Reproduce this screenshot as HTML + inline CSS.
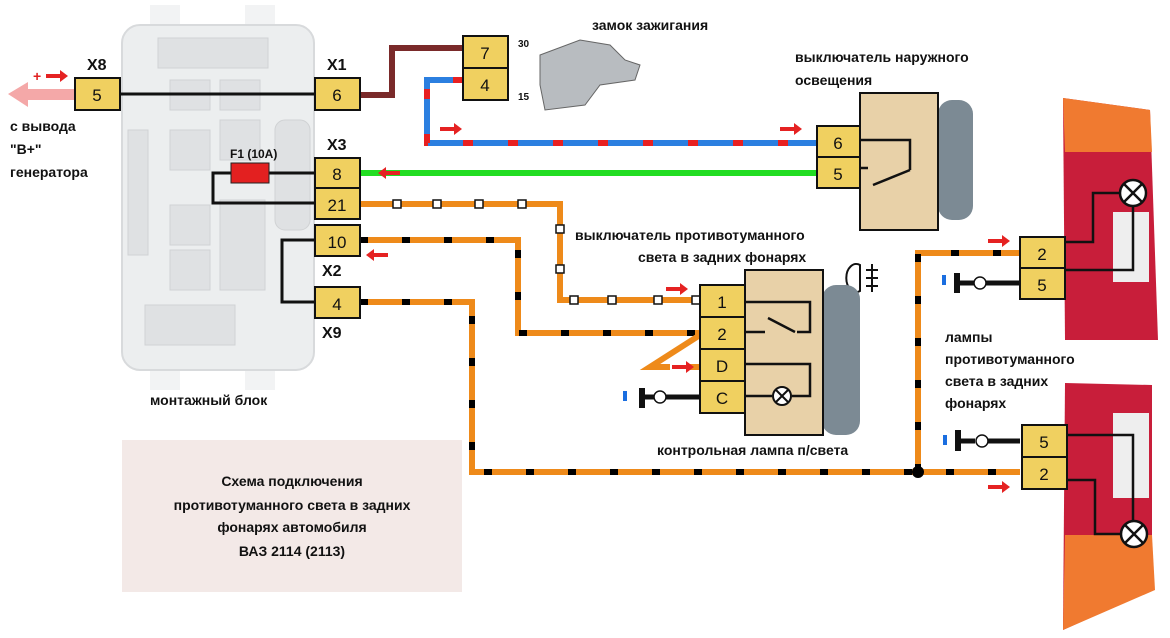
<!DOCTYPE html>
<html><head><meta charset="utf-8"><style>
body{margin:0;background:#fff}
svg{display:block}
text{font-family:"Liberation Sans","DejaVu Sans",sans-serif;font-weight:bold;fill:#111}
.c{fill:#f0d060;stroke:#111;stroke-width:2}
.n{font-size:17px;text-anchor:middle;font-weight:normal}
.l{font-size:14px}
</style></head><body>
<svg width="1170" height="638" viewBox="0 0 1170 638" xmlns="http://www.w3.org/2000/svg">
<!-- fuse block -->
<rect x="150" y="5" width="30" height="30" fill="#f2f3f4"/>
<rect x="245" y="5" width="30" height="30" fill="#f2f3f4"/>
<rect x="150" y="360" width="30" height="30" fill="#f2f3f4"/>
<rect x="245" y="360" width="30" height="30" fill="#f2f3f4"/>
<rect x="122" y="25" width="192" height="345" rx="18" fill="#eceeef" stroke="#d8dadc" stroke-width="2"/>
<g fill="#dfe1e3" stroke="#d0d2d4">
<rect x="158" y="38" width="110" height="30"/>
<rect x="170" y="80" width="40" height="30"/><rect x="220" y="80" width="40" height="30"/>
<rect x="170" y="130" width="40" height="40"/><rect x="220" y="120" width="40" height="40"/>
<rect x="170" y="205" width="40" height="40"/><rect x="220" y="200" width="45" height="90"/>
<rect x="170" y="250" width="40" height="40"/>
<rect x="128" y="130" width="20" height="125"/>
<rect x="145" y="305" width="90" height="40"/>
<rect x="275" y="120" width="35" height="110" rx="10"/>
</g>
<!-- text box -->
<rect x="122" y="440" width="340" height="152" fill="#f3e9e7"/>
<text x="292" y="486" class="l" text-anchor="middle" font-weight="normal">Схема подключения</text>
<text x="292" y="510" class="l" text-anchor="middle">противотуманного света в задних</text>
<text x="292" y="532" class="l" text-anchor="middle">фонарях автомобиля</text>
<text x="292" y="556" class="l" text-anchor="middle">ВАЗ 2114 (2113)</text>

<!-- tail lights -->
<g>
<path d="M1063 98 L1150 110 L1158 340 L1065 340 Z" fill="#c81e3a"/>
<path d="M1063 98 L1150 110 L1152 152 L1065 152 Z" fill="#f07a30"/>
<rect x="1113" y="212" width="36" height="70" fill="#eeeeee"/>
<path d="M1065 383 L1152 385 L1152 590 L1063 630 Z" fill="#c81e3a"/>
<path d="M1065 535 L1152 535 L1155 590 L1063 630 Z" fill="#f07a30"/>
<rect x="1113" y="413" width="36" height="85" fill="#eeeeee"/>
</g>
<!-- wires -->
<g fill="none" stroke-linejoin="miter">
<path d="M360 95 H392 V48 H463" stroke="#7a2a2a" stroke-width="6"/>
<path d="M463 80 H427 V143 H817" stroke="#2b7fe0" stroke-width="6"/>
<path d="M463 80 H427 V143 H817" stroke="#e82020" stroke-width="6" stroke-dasharray="10 35"/>
<path d="M360 173 H817" stroke="#22dd22" stroke-width="6"/>
<path d="M360 204 H560 V300 H700" stroke="#ee8a1a" stroke-width="6"/>
<path d="M360 240 H518 V333 H700" stroke="#ee8a1a" stroke-width="6"/>
<path d="M360 240 H518 V333 H700" stroke="#000" stroke-width="6" stroke-dasharray="8 34"/>
<path d="M360 302 H472 V472 H1020" stroke="#ee8a1a" stroke-width="6"/>
<path d="M360 302 H472 V472 H1020" stroke="#000" stroke-width="6" stroke-dasharray="8 34"/>
<path d="M918 472 V253 H1020" stroke="#ee8a1a" stroke-width="6"/>
<path d="M918 472 V253 H1020" stroke="#000" stroke-width="6" stroke-dasharray="8 34"/>
<path d="M700 335 L650 367 H670" stroke="#ee8a1a" stroke-width="6"/>
<path d="M690 367 H700" stroke="#ee8a1a" stroke-width="6"/>
</g>
<g fill="#fff" stroke="#111" stroke-width="1.5">
<rect x="393" y="200" width="8" height="8"/><rect x="433" y="200" width="8" height="8"/><rect x="475" y="200" width="8" height="8"/><rect x="518" y="200" width="8" height="8"/>
<rect x="556" y="225" width="8" height="8"/><rect x="556" y="265" width="8" height="8"/>
<rect x="570" y="296" width="8" height="8"/><rect x="608" y="296" width="8" height="8"/><rect x="654" y="296" width="8" height="8"/><rect x="692" y="296" width="8" height="8"/>
</g>
<circle cx="918" cy="472" r="6" fill="#000"/>
<!-- internal block wiring -->
<g fill="none" stroke="#111" stroke-width="3">
<path d="M120 94 H315"/>
<path d="M315 173 H213 V203 H315"/>
<path d="M315 240 H282 V302 H315"/>
</g>
<rect x="231" y="163" width="38" height="20" fill="#e32020" stroke="#222"/>
<text x="230" y="158" font-size="12" font-weight="normal">F1 (10A)</text>
<!-- left arrow -->
<path d="M8 94 L28 82 V89 H75 V100 H28 V107 Z" fill="#f4a8a8"/>
<text x="33" y="81" font-size="14" fill="#e02020" style="fill:#e02020">+</text>
<path d="M46 74 H60 V70 L68 76 L60 82 V78 H46 Z" fill="#e52222"/>
<!-- connectors -->
<rect class="c" x="75" y="78" width="45" height="32"/><text class="n" x="97" y="101">5</text>
<rect class="c" x="315" y="78" width="45" height="32"/><text class="n" x="337" y="101">6</text>
<rect class="c" x="315" y="158" width="45" height="30"/><text class="n" x="337" y="180">8</text>
<rect class="c" x="315" y="188" width="45" height="31"/><text class="n" x="337" y="211">21</text>
<rect class="c" x="315" y="225" width="45" height="31"/><text class="n" x="337" y="248">10</text>
<rect class="c" x="315" y="287" width="45" height="31"/><text class="n" x="337" y="310">4</text>
<g font-size="16" font-weight="normal">
<text x="87" y="70" font-weight="normal">X8</text><text x="327" y="70" font-weight="normal">X1</text>
<text x="327" y="150" font-weight="normal">X3</text><text x="322" y="276" font-weight="normal">X2</text>
<text x="322" y="338" font-weight="normal">X9</text></g>
<text x="10" y="131" class="l">с вывода</text>
<text x="10" y="154" class="l">"В+"</text>
<text x="10" y="177" class="l">генератора</text>
<text x="150" y="405" class="l">монтажный блок</text>
<!-- ignition -->
<rect class="c" x="463" y="36" width="45" height="32"/><text class="n" x="485" y="59">7</text>
<rect class="c" x="463" y="68" width="45" height="32"/><text class="n" x="485" y="91">4</text>
<text x="518" y="47" font-size="10" font-weight="normal">30</text>
<text x="518" y="100" font-size="10" font-weight="normal">15</text>
<path d="M540 55 L580 40 L610 45 L625 60 L640 65 L635 80 L600 85 L585 105 L545 110 L540 85 Z" fill="#b8bcc0" stroke="#666"/>
<text x="592" y="30" class="l">замок зажигания</text>
<!-- outer light switch -->
<text x="795" y="62" class="l">выключатель наружного</text>
<text x="795" y="85" class="l">освещения</text>
<rect x="938" y="100" width="35" height="120" rx="14" fill="#7c8a94"/>
<rect x="860" y="93" width="78" height="137" fill="#e8d1a8" stroke="#111" stroke-width="2"/>
<rect class="c" x="817" y="126" width="43" height="31"/><text class="n" x="838" y="149">6</text>
<rect class="c" x="817" y="157" width="43" height="31"/><text class="n" x="838" y="180">5</text>
<path d="M860 140 H910 V170 M860 168 H868 M873 185 L910 170" fill="none" stroke="#111" stroke-width="2.5"/>
<!-- fog switch -->
<text x="575" y="240" class="l">выключатель противотуманного</text>
<text x="638" y="262" class="l">света в задних фонарях</text>
<path d="M860 265 a10 14 0 1 0 0 26 Z" fill="none" stroke="#111" stroke-width="2"/>
<path d="M866 270 H878 M866 278 H878 M866 286 H878 M872 264 V292" stroke="#111" stroke-width="2"/>
<rect x="822" y="285" width="38" height="150" rx="14" fill="#7c8a94"/>
<rect x="745" y="270" width="78" height="165" fill="#e8d1a8" stroke="#111" stroke-width="2"/>
<rect class="c" x="700" y="285" width="45" height="32"/><text class="n" x="722" y="308">1</text>
<rect class="c" x="700" y="317" width="45" height="32"/><text class="n" x="722" y="340">2</text>
<rect class="c" x="700" y="349" width="45" height="32"/><text class="n" x="722" y="372">D</text>
<rect class="c" x="700" y="381" width="45" height="32"/><text class="n" x="722" y="404">C</text>
<path d="M745 302 H810 V332 H797 M745 332 H765 M768 318 L795 332 M745 364 H810 V396 H792 M772 396 H745" fill="none" stroke="#111" stroke-width="2.5"/>
<circle cx="782" cy="396" r="9" fill="#fff" stroke="#111" stroke-width="2"/>
<path d="M776 390 L788 402 M788 390 L776 402" stroke="#111" stroke-width="2"/>
<text x="657" y="455" class="l">контрольная лампа п/света</text>
<!-- grounds -->
<g stroke="#111">
<path d="M660 397 H700" stroke-width="5"/><path d="M642 388 V408" stroke-width="6"/><path d="M642 397 H655" stroke-width="5"/>
<circle cx="660" cy="397" r="6" fill="#fff" stroke-width="1.5"/>
<path d="M980 283 H1020" stroke-width="5"/><path d="M957 273 V293" stroke-width="6"/><path d="M957 283 H975" stroke-width="5"/>
<circle cx="980" cy="283" r="6" fill="#fff" stroke-width="1.5"/>
<path d="M982 441 H1020" stroke-width="5"/><path d="M958 430 V451" stroke-width="6"/><path d="M958 441 H975" stroke-width="5"/>
<circle cx="982" cy="441" r="6" fill="#fff" stroke-width="1.5"/>
</g>
<rect x="623" y="391" width="4" height="10" fill="#1a6ee0"/>
<rect x="942" y="275" width="4" height="10" fill="#1a6ee0"/>
<rect x="943" y="435" width="4" height="10" fill="#1a6ee0"/>
<!-- tail connectors & lamps -->
<rect class="c" x="1020" y="237" width="45" height="31"/><text class="n" x="1042" y="260">2</text>
<rect class="c" x="1020" y="268" width="45" height="31"/><text class="n" x="1042" y="291">5</text>
<rect class="c" x="1022" y="425" width="45" height="32"/><text class="n" x="1044" y="448">5</text>
<rect class="c" x="1022" y="457" width="45" height="32"/><text class="n" x="1044" y="480">2</text>
<path d="M1065 242 H1093 V193 H1120 M1133 205 V270 H1065 M1067 435 H1133 V523 M1067 480 H1095 V534 H1120" fill="none" stroke="#111" stroke-width="2.5"/>
<g stroke="#111" stroke-width="2.5"><circle cx="1133" cy="193" r="13" fill="#fff"/><path d="M1124 184 L1142 202 M1142 184 L1124 202"/>
<circle cx="1134" cy="534" r="13" fill="#fff"/><path d="M1125 525 L1143 543 M1143 525 L1125 543"/></g>
<text x="945" y="342" class="l">лампы</text>
<text x="945" y="364" class="l">противотуманного</text>
<text x="945" y="386" class="l">света в задних</text>
<text x="945" y="408" class="l">фонарях</text>
<!-- red arrows -->
<g fill="#e52222">
<path d="M440 127 h14 v-4 l8 6 l-8 6 v-4 h-14z"/>
<path d="M780 127 h14 v-4 l8 6 l-8 6 v-4 h-14z"/>
<path d="M400 173 h-14 v-4 l-8 6 l8 6 v-4 h14z" transform="translate(0,-2)"/>
<path d="M388 253 h-14 v-4 l-8 6 l8 6 v-4 h14z"/>
<path d="M666 287 h14 v-4 l8 6 l-8 6 v-4 h-14z"/>
<path d="M672 365 h14 v-4 l8 6 l-8 6 v-4 h-14z"/>
<path d="M988 239 h14 v-4 l8 6 l-8 6 v-4 h-14z"/>
<path d="M988 485 h14 v-4 l8 6 l-8 6 v-4 h-14z"/>
</g>
</svg>
</body></html>
